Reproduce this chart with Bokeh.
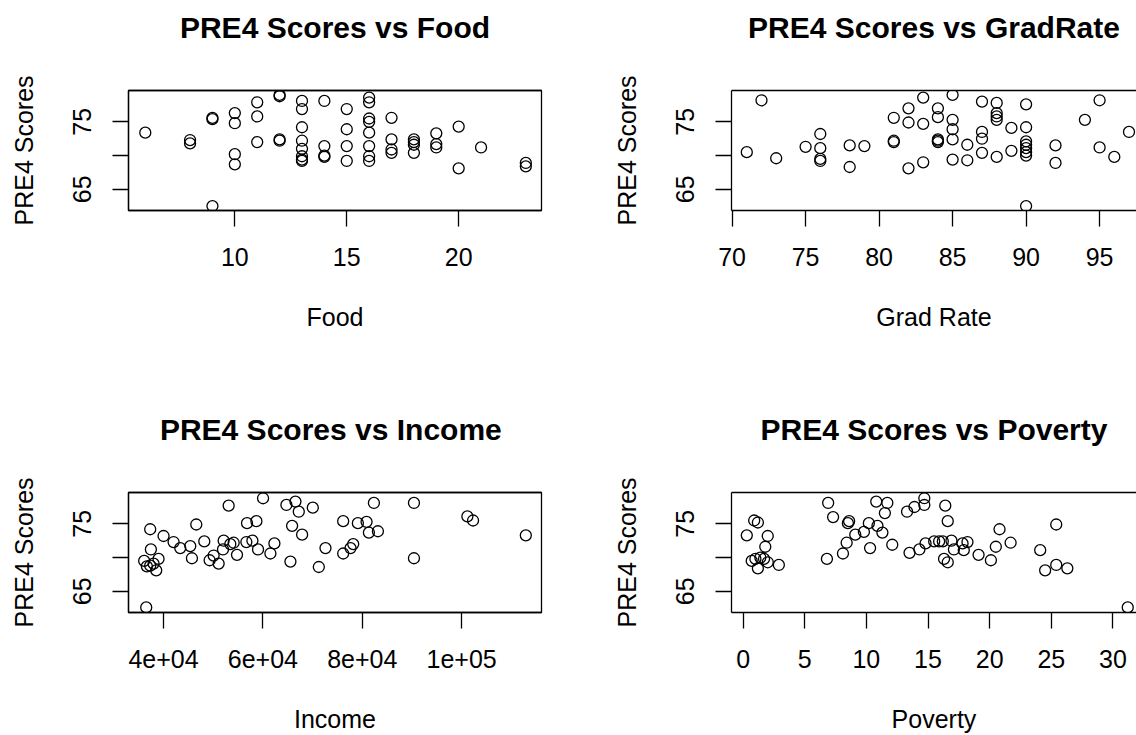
from bokeh.plotting import figure
from bokeh.layouts import column, row
from bokeh.models import FixedTicker, Range1d, LinearAxis
from bokeh.embed import file_html
from bokeh.resources import INLINE

# ---- data ----
food_x = [6, 8, 8, 9, 9, 9, 10, 10, 10, 10, 11, 11, 11, 12, 12, 12, 12,
          13, 13, 13, 13, 13, 13, 13, 13, 14, 14, 14, 14, 15, 15, 15, 15,
          16, 16, 16, 16, 16, 16, 16, 16, 17, 17, 17, 17, 18, 18, 18, 18,
          19, 19, 19, 20, 20, 21, 23, 23]
food_y = [73.4, 72.3, 71.8, 75.6, 75.4, 62.5, 76.3, 74.8, 70.2, 68.7, 77.9, 75.8, 72.0,
          79.0, 78.8, 72.4, 72.2,
          78.1, 76.9, 74.2, 72.2, 71.0, 69.9, 69.4, 69.2, 78.1, 71.4, 70.0, 69.8,
          76.9, 73.9, 71.4, 69.2,
          78.6, 77.9, 75.5, 75.0, 73.4, 71.4, 69.9, 69.2, 75.6, 72.4, 70.9, 70.4,
          72.4, 72.0, 71.6, 70.4, 73.3, 71.7, 71.2, 74.3, 68.1, 71.2, 68.9, 68.4]

grad_x = [71, 72, 73, 75, 76, 76, 76, 76, 78, 78, 79, 81, 81, 81, 82, 82, 82,
          83, 83, 83, 84, 84, 84, 84, 84, 85, 85, 85, 85, 85, 86, 86,
          87, 87, 87, 87, 88, 88, 88, 88, 88, 89, 89,
          90, 90, 90, 90, 90, 90, 90, 90, 92, 92, 94, 95, 95, 96, 97]
grad_y = [70.5, 78.2, 69.6, 71.3, 73.2, 71.1, 69.5, 69.2, 71.5, 68.3, 71.4, 75.6, 72.2, 72.0,
          77.0, 74.9, 68.1, 78.6, 74.7, 69.0, 77.0, 75.7, 72.4, 72.2, 72.0,
          79.0, 75.3, 73.9, 72.4, 69.4, 71.6, 69.3, 78.0, 73.5, 72.5, 70.4,
          77.8, 76.3, 75.8, 75.3, 69.8, 74.1, 70.7,
          77.6, 74.2, 72.1, 71.6, 71.1, 70.5, 70.0, 62.5, 71.5, 68.9, 75.3, 78.2, 71.2, 69.8, 73.5]

income_x = [36100, 36640, 37312, 37984, 38522, 38992, 36512, 37312, 37450, 40000, 42016,
            43360, 45376, 45712, 46586, 48198, 49274, 50080, 51088, 52096, 51962, 53104,
            53440, 54112, 54784, 56666, 56800, 57882, 58688, 59018, 60026, 61504, 62310,
            64730, 65536, 65872, 66544, 67216, 67888, 70038, 71248, 72592, 76154, 76154,
            77632, 78170, 79110, 80858, 81328, 82336, 83142, 90400, 90400, 101152,
            102294, 112912]
income_y = [69.5, 68.7, 68.8, 69.1, 68.1, 69.8, 62.6, 74.2, 71.2, 73.2, 72.3,
            71.4, 71.7, 69.9, 74.9, 72.4, 69.6, 70.3, 69.1, 72.5, 71.2, 77.7,
            72.0, 72.2, 70.4, 72.3, 75.1, 72.5, 75.4, 71.2, 78.8, 70.6, 72.1,
            77.8, 69.4, 74.7, 78.3, 76.8, 73.4, 77.4, 68.6, 71.4, 75.4, 70.6,
            71.4, 72.0, 75.1, 75.3, 73.7, 78.1, 73.9, 78.1, 69.9, 76.1,
            75.5, 73.3]

poverty_x = [0.3, 0.9, 1.2, 2.0, 1.8, 0.7, 1.2, 1.4, 1.7, 2.0, 1.0, 2.9,
             6.9, 6.8, 7.3, 8.1, 8.4, 8.6, 8.5, 9.1, 9.8, 10.3, 10.2, 10.8, 10.9,
             11.3, 11.5, 11.7, 12.1, 13.3, 13.9, 14.7, 14.7, 13.5, 14.3, 14.8,
             15.5, 15.9, 16.2, 16.4, 16.6, 16.3, 16.6, 16.9, 17.1, 17.8, 18.2, 17.9,
             19.1, 20.1, 20.5, 20.8, 21.7, 24.1, 24.5, 25.4, 25.4, 26.3, 31.2]
poverty_y = [73.3, 75.5, 75.2, 73.2, 71.6, 69.5, 68.4, 70.0, 69.8, 69.3, 69.8, 68.9,
             78.1, 69.8, 76.0, 70.6, 72.2, 75.4, 75.1, 73.4, 73.8, 71.4, 75.1, 78.3, 74.7,
             73.7, 76.6, 78.1, 71.9, 76.8, 77.5, 78.8, 77.8, 70.7, 71.2, 72.1,
             72.4, 72.4, 72.4, 77.7, 75.4, 69.8, 69.3, 72.5, 71.2, 72.1, 72.3, 71.1,
             70.4, 69.6, 71.6, 74.2, 72.2, 71.1, 68.1, 74.9, 68.9, 68.4, 62.6]

y_ticks = [65, 70, 75]
food_ticks = [10, 15, 20]
grad_ticks = [70, 75, 80, 85, 90, 95]
income_ticks = [40000, 60000, 80000, 100000]
income_tick_labels = ["4e+04", "6e+04", "8e+04", "1e+05"]
poverty_ticks = [0, 5, 10, 15, 20, 25, 30]

FONT = "Liberation Sans"
Y_RANGE = (61.85, 79.65)


def make_panel(title, xlab, xs, ys, x_range, xticks, left, width, height,
               top, bottom, right, xlab_standoff, xlabels=None, outline=True):
    p = figure(width=width, height=height, output_backend="svg",
               toolbar_location=None, tools="",
               x_range=Range1d(*x_range), y_range=Range1d(*Y_RANGE),
               min_border_left=left, min_border_right=right,
               min_border_top=top, min_border_bottom=bottom)
    p.title.text = title
    p.title.text_font = FONT
    p.title.text_font_size = "30px"
    p.title.text_font_style = "bold"
    p.title.align = "center"
    p.title.text_color = "black"
    p.title.standoff = 0
    p.grid.visible = False
    p.outline_line_color = "black" if outline else None
    p.outline_line_width = 1.3
    p.background_fill_color = "white"
    p.border_fill_color = "white"

    xa = p.below[0]
    ya = p.left[0]

    # top edge of the box; its invisible tick keeps the title clear of the box
    top_axis = LinearAxis(ticker=FixedTicker(ticks=[xticks[0]]),
                          major_label_overrides={xticks[0]: ""},
                          major_label_text_font_size="1px",
                          major_tick_out=47, major_tick_in=0,
                          major_tick_line_color=None,
                          minor_tick_out=0, minor_tick_in=0,
                          minor_tick_line_color=None, major_label_standoff=0,
                          axis_line_color="black", axis_line_width=1.3)
    p.add_layout(top_axis, "above")

    p.scatter(xs, ys, marker="circle", size=11, fill_color=None,
              line_color="black", line_width=1.3)

    xa.ticker = FixedTicker(ticks=xticks)
    if xlabels is not None:
        xa.major_label_overrides = {t: l for t, l in zip(xticks, xlabels)}
    xa.axis_label = xlab
    xa.axis_label_standoff = xlab_standoff
    xa.major_label_standoff = 21

    ya.ticker = FixedTicker(ticks=y_ticks)
    ya.major_label_overrides = {70: ""}
    ya.axis_label = "PRE4 Scores"
    ya.major_label_orientation = "vertical"
    ya.major_label_standoff = 21
    ya.axis_label_standoff = 33

    for ax in (xa, ya):
        ax.major_tick_out = 16
        ax.major_tick_in = 0
        ax.minor_tick_out = 0
        ax.minor_tick_in = 0
        ax.major_tick_line_color = "black"
        ax.major_tick_line_width = 1.3
        ax.axis_line_color = "black"
        ax.axis_line_width = 1.3
        ax.major_label_text_font = FONT
        ax.major_label_text_font_size = "25px"
        ax.major_label_text_color = "black"
        ax.axis_label_text_font = FONT
        ax.axis_label_text_font_size = "25px"
        ax.axis_label_text_font_style = "normal"
        ax.axis_label_text_color = "black"
    return p


p1 = make_panel("PRE4 Scores vs Food", "Food", food_x, food_y, (5.25, 23.7),
                food_ticks, 128, 568, 400, 90, 190, 27, 34)
p2 = make_panel("PRE4 Scores vs GradRate", "Grad Rate", grad_x, grad_y,
                (69.96, 97.51), grad_ticks, 163, 568, 400, 90, 190, 0, 34,
                outline=False)
p3 = make_panel("PRE4 Scores  vs Income", "Income", income_x, income_y,
                (32944, 116069), income_ticks, 128, 568, 335, 92, 123, 27, 34,
                xlabels=income_tick_labels)
p4 = make_panel("PRE4 Scores vs Poverty", "Poverty", poverty_x, poverty_y,
                (-0.94, 31.91), poverty_ticks, 163, 568, 335, 92, 123, 0, 34,
                outline=False)

layout = column(row(p1, p2, spacing=0), row(p3, p4, spacing=0), spacing=0)

open("out.html", "w").write(file_html(layout, INLINE))
